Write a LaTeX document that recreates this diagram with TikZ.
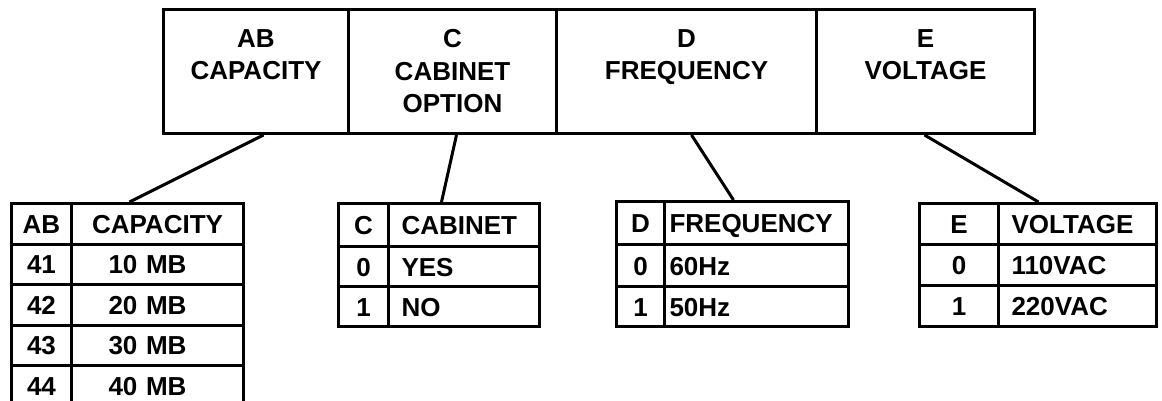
\documentclass[tikz,border=0pt]{standalone}
\usepackage{fontspec}
\setmainfont{Liberation Sans}
\begin{document}
\begin{tikzpicture}[x=1pt,y=-1pt,line width=3pt,
  topbox/.style={draw, inner sep=0pt, anchor=north west},
  toptext/.style={anchor=north, inner sep=0pt, align=center, font=\fontsize{26}{32.5}\selectfont\bfseries},
  cell/.style={draw, inner sep=0pt, anchor=north west, font=\fontsize{26}{30}\selectfont\bfseries, text height=19pt, text depth=0pt},
  link/.style={line width=3pt}]
\useasboundingbox (0,0) rectangle (1162,400);
% top boxes
\node[topbox, minimum width=185pt, minimum height=124pt] (tAB) at (162,8) {};
\node[topbox, minimum width=208pt, minimum height=124pt] (tC) at (347,8) {};
\node[topbox, minimum width=260pt, minimum height=124pt] (tD) at (555,8) {};
\node[topbox, minimum width=218pt, minimum height=124pt] (tE) at (815,8) {};
\node[toptext] (lAB) at ([yshift=-20pt]tAB.north) {AB\\CAPACITY};
\node[toptext] (lC) at ([yshift=-20pt]tC.north) {C\\CABINET\\OPTION};
\node[toptext] (lD) at ([yshift=-20pt]tD.north) {D\\FREQUENCY};
\node[toptext] (lE) at ([yshift=-20pt]tE.north) {E\\VOLTAGE};
% AB table
\node[cell, minimum width=60pt, minimum height=40.5pt] (ab0a) at (10,202) {AB};
\node[cell, minimum width=172pt, minimum height=40.5pt] (ab0b) at (70,202) {CAPACITY};
\node[cell, minimum width=60pt, minimum height=40.5pt] (ab1a) at (10,242.5) {41};
\node[cell, minimum height=40.5pt, text width=98pt, inner xsep=37pt, align=left] (ab1b) at (70,242.5) {10 MB};
\node[cell, minimum width=60pt, minimum height=40.5pt] (ab2a) at (10,283) {42};
\node[cell, minimum height=40.5pt, text width=98pt, inner xsep=37pt, align=left] (ab2b) at (70,283) {20 MB};
\node[cell, minimum width=60pt, minimum height=40.5pt] (ab3a) at (10,323.5) {43};
\node[cell, minimum height=40.5pt, text width=98pt, inner xsep=37pt, align=left] (ab3b) at (70,323.5) {30 MB};
\node[cell, minimum width=60pt, minimum height=40.5pt] (ab4a) at (10,364) {44};
\node[cell, minimum height=40.5pt, text width=98pt, inner xsep=37pt, align=left] (ab4b) at (70,364) {40 MB};
% C table
\node[cell, minimum width=50pt, minimum height=43pt] (c0a) at (337,202) {C};
\node[cell, minimum height=43pt, text width=125pt, inner xsep=13pt, align=left] (c0b) at (387,202) {CABINET};
\node[cell, minimum width=50pt, minimum height=40pt] (c1a) at (337,245) {0};
\node[cell, minimum height=40pt, text width=125pt, inner xsep=13pt, align=left] (c1b) at (387,245) {YES};
\node[cell, minimum width=50pt, minimum height=40pt] (c2a) at (337,285) {1};
\node[cell, minimum height=40pt, text width=125pt, inner xsep=13pt, align=left] (c2b) at (387,285) {NO};
% D table
\node[cell, minimum width=48pt, minimum height=43pt] (d0a) at (615,200) {D};
\node[cell, minimum height=43pt, text width=174pt, inner xsep=5pt, align=left] (d0b) at (663,200) {FREQUENCY};
\node[cell, minimum width=48pt, minimum height=42pt] (d1a) at (615,243) {0};
\node[cell, minimum height=42pt, text width=174pt, inner xsep=5pt, align=left] (d1b) at (663,243) {60Hz};
\node[cell, minimum width=48pt, minimum height=40pt] (d2a) at (615,285) {1};
\node[cell, minimum height=40pt, text width=174pt, inner xsep=5pt, align=left] (d2b) at (663,285) {50Hz};
% E table
\node[cell, minimum width=79pt, minimum height=41pt] (e0a) at (918,202) {E};
\node[cell, minimum height=41pt, text width=132pt, inner xsep=13pt, align=left] (e0b) at (997,202) {VOLTAGE};
\node[cell, minimum width=79pt, minimum height=41pt] (e1a) at (918,243) {0};
\node[cell, minimum height=41pt, text width=132pt, inner xsep=13pt, align=left] (e1b) at (997,243) {110VAC};
\node[cell, minimum width=79pt, minimum height=41pt] (e2a) at (918,284) {1};
\node[cell, minimum height=41pt, text width=132pt, inner xsep=13pt, align=left] (e2b) at (997,284) {220VAC};
% connectors
\draw[link] ([xshift=7.5pt]tAB.south) -- ([xshift=-28pt]ab0b.north);
\draw[link] ([xshift=4pt]tC.south) -- ([xshift=-22.5pt]c0b.north);
\draw[link] ([xshift=5pt]tD.south) -- ([xshift=-23pt]d0b.north);
\draw[link] ([xshift=-1pt]tE.south) -- ([xshift=-39pt]e0b.north);
\end{tikzpicture}
\end{document}
